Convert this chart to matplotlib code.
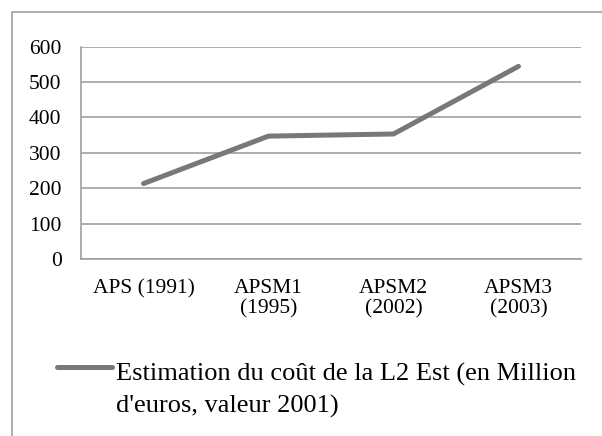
import matplotlib
matplotlib.use("Agg")
import matplotlib.pyplot as plt
from matplotlib.patches import Rectangle
from matplotlib.lines import Line2D

# Data
categories = ["APS (1991)", "APSM1\n(1995)", "APSM2\n(2002)", "APSM3\n(2003)"]
cost = [213, 347, 353, 544]
series_label = "Estimation du coût de la L2 Est (en Million\nd'euros, valeur 2001)"
yticks = [0, 100, 200, 300, 400, 500, 600]

plt.rcParams['font.family'] = ['Liberation Serif', 'DejaVu Serif']

W, H = 602, 436
line_color = "#787878"
fig = plt.figure(figsize=(W / 100, H / 100), dpi=100)

# chart area border (only top and left edges visible)
fig.patches.append(Rectangle((12 / W, -0.1), 1.2, 1.1 - 12 / H,
                             transform=fig.transFigure, fill=False,
                             edgecolor="#a0a0a0", linewidth=1.2))

ax = fig.add_axes([81 / W, 1 - 259 / H, 500 / W, (259 - 46.5) / H])
x = list(range(len(categories)))
ax.plot(x, cost, color=line_color, linewidth=3.6,
        solid_capstyle="round", solid_joinstyle="round")

ax.set_xlim(-0.5, len(categories) - 0.5)
ax.set_ylim(0, 600)
ax.set_yticks(yticks)
ax.set_xticks(x)
ax.set_xticklabels(categories, linespacing=1.07)
ax.tick_params(axis="both", length=0, labelsize=15.5, colors="black")
ax.tick_params(axis="y", pad=14)
ax.tick_params(axis="x", pad=14.5)
for lab in ax.get_xticklabels():
    lab.set_verticalalignment("top")

ax.grid(axis="y", color="#a0a0a0", linewidth=1.2)
ax.set_axisbelow(True)
for side in ["top", "right"]:
    ax.spines[side].set_visible(False)
for side in ["left", "bottom"]:
    ax.spines[side].set_color("#a0a0a0")
    ax.spines[side].set_linewidth(1.2)

# legend: key aligned with the first line of the label
fig.lines.append(Line2D([57 / W, 112 / W], [1 - 367 / H, 1 - 367 / H],
                        transform=fig.transFigure, color=line_color,
                        linewidth=3.6, solid_capstyle="round"))
fig.text(116 / W, 1 - 413 / H, series_label, fontsize=19,
         ha="left", va="baseline", linespacing=1.5)

fig.savefig("out.png", dpi=100)
